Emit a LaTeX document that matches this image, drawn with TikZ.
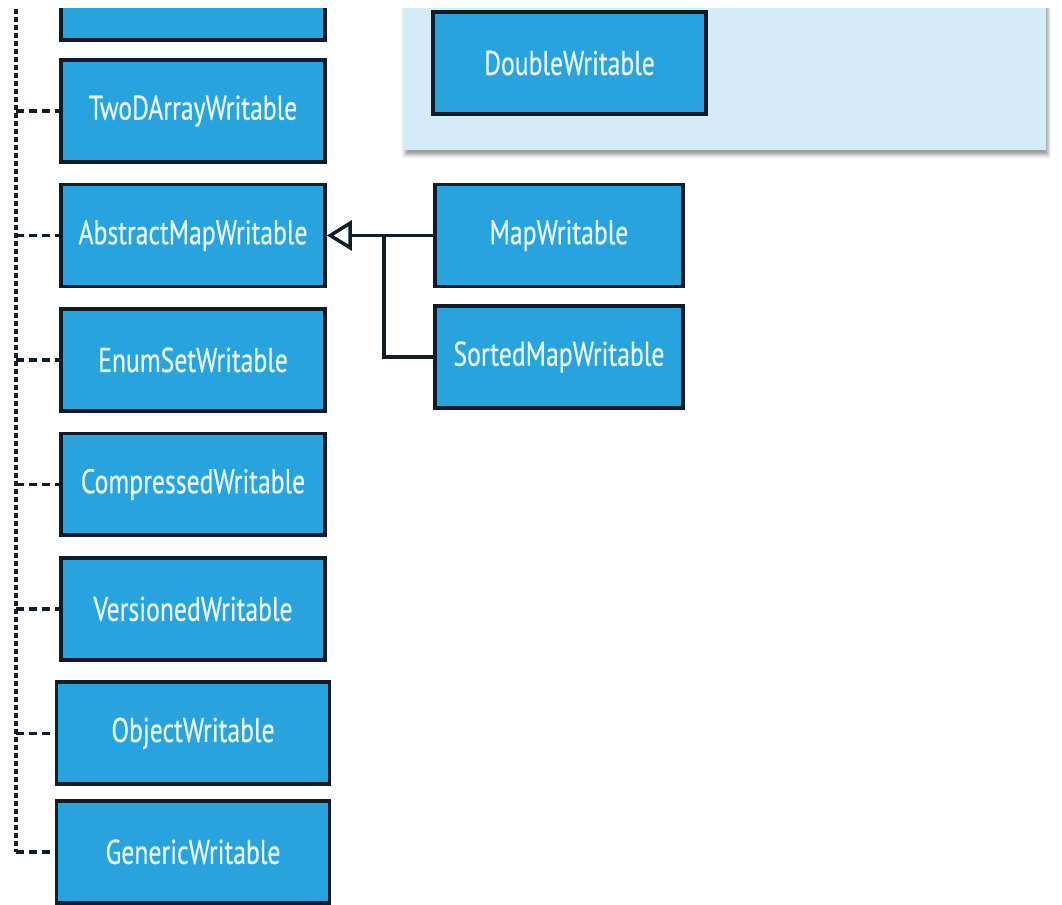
\documentclass[tikz,border=0pt]{standalone}
\usepackage{fontspec}
\setmainfont[FakeStretch=0.75, FakeBold=0.5]{PT Sans}
\usetikzlibrary{positioning, arrows.meta, shadows.blur}

\definecolor{boxblue}{RGB}{41,163,221}
\definecolor{boxedge}{RGB}{18,28,38}
\definecolor{boxtext}{RGB}{230,248,252}
\definecolor{panelblue}{RGB}{211,236,248}

\begin{document}
\begin{tikzpicture}[x=0.02cm, y=-0.02cm, node distance=2.49cm, on grid,
    cls/.style={draw=boxedge, line width=2.2pt, fill=boxblue, text=boxtext,
      minimum width=5.28cm, minimum height=2.04cm, inner sep=0pt,
      font=\fontsize{19.5}{21}\selectfont},
    dep/.style={draw=boxedge, line width=2pt, dash pattern=on 0.16cm off 0.1cm},
    tree/.style={draw=boxedge, line width=2pt, dash pattern=on 0.1cm off 0.06cm},
    gen/.style={draw=boxedge, line width=2pt,
      -{Triangle[open, length=0.5cm, width=0.6cm, fill=white]}}]

  \useasboundingbox (0,0) rectangle (1062,905);
  \begin{scope}
  \clip (0,9) rectangle (1062,905);

  % the package panel
  \fill[panelblue, blur shadow={shadow xshift=0.04cm, shadow yshift=-0.1cm,
    shadow opacity=40}] (403,-20) rectangle (1046,150);

  \node[cls] (top) at (193,-11) {};
  \node[cls] (two) at (193,111) {TwoDArrayWritable};
  \node[cls, below=of two] (absmap) {AbstractMapWritable};
  \node[cls, below=of absmap] (enumset) {EnumSetWritable};
  \node[cls, below=of enumset] (compressed) {CompressedWritable};
  \node[cls, below=of compressed] (versioned) {VersionedWritable};
  \node[cls, minimum width=5.46cm, below=of versioned] (object) {ObjectWritable};
  \node[cls, minimum width=5.46cm, below=2.37cm of object] (generic) {GenericWritable};

  \node[cls, minimum width=5.46cm] (double) at (569.5,63) {DoubleWritable};
  \node[cls, minimum width=4.96cm, right=7.32cm of absmap] (map) {MapWritable};
  \node[cls, minimum width=4.96cm, below=2.43cm of map] (sorted) {SortedMapWritable};

  \coordinate (spine) at (16,9);
  \draw[tree] (spine) -- (spine |- generic.west);
  \foreach \n in {two, absmap, enumset, compressed, versioned, object, generic}
    \draw[dep] (spine |- \n.west) -- (\n.west);

  \draw[gen] (map) -- (absmap);
  \draw[boxedge, line width=2pt] (sorted.west) -| ([xshift=1.14cm]absmap.east);
  \end{scope}

\end{tikzpicture}
\end{document}
